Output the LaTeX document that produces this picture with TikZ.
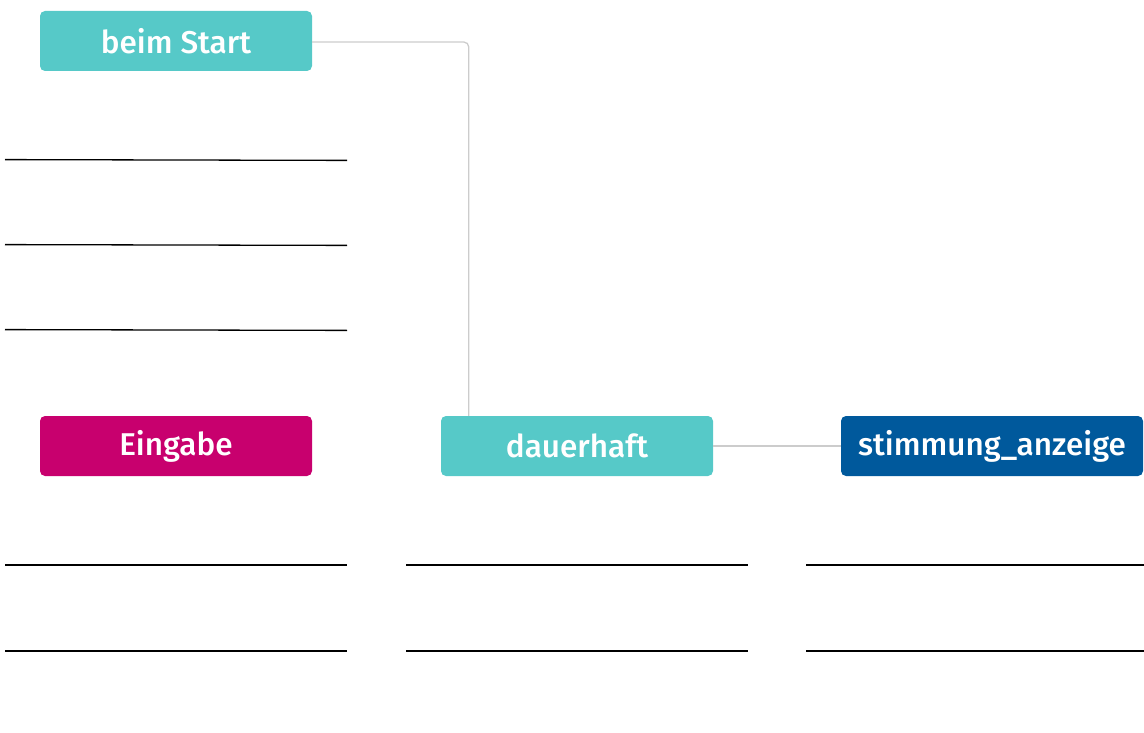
\documentclass[tikz,border=0pt]{standalone}
\usepackage{fontspec}
\setmainfont{Fira Sans Medium}

\definecolor{tuerkis}{HTML}{56C9C8}
\definecolor{magenta}{HTML}{C8006E}
\definecolor{dunkelblau}{HTML}{00599C}
\definecolor{linie}{HTML}{CCCCCC}

\begin{document}
\begin{tikzpicture}[x=1pt, y=-1pt,
    box/.style={rounded corners=5pt, minimum width=272pt, minimum height=60pt,
      inner sep=0pt, text=white, font=\fontsize{31.5}{36}\selectfont},
    verbinder/.style={linie, line width=1.3pt, rounded corners=5pt},
    schreiblinie/.style={black, line width=1.3pt}]
  \useasboundingbox (0,0) rectangle (1144,733);

  % boxes
  \node[box, fill=tuerkis] (start) at (176,41) {beim Start};
  \node[box, fill=magenta] (eingabe) at (176,446) {Eingabe};
  \node[box, fill=tuerkis] (dauer) at (577,446) {dauerhaft};
  \node[box, fill=dunkelblau, minimum width=302pt] (anzeige) at (992,446) {stimmung\_anzeige};

  % connectors
  \draw[verbinder] ([yshift=-1pt]start.east) -| ([xshift=28pt]dauer.north west);
  \draw[verbinder] (dauer.east) -- (anzeige.west);

  % lines below beim Start
  \foreach \y in {160,245,330}
    \draw[schreiblinie] (5,\y-0.4) -- (347,\y+0.4);

  % lines below the lower row
  \foreach \x in {5,406,806}
    \foreach \y in {565,651}
      \draw[schreiblinie] (\x,\y) -- (\x+342,\y);
\end{tikzpicture}
\end{document}
